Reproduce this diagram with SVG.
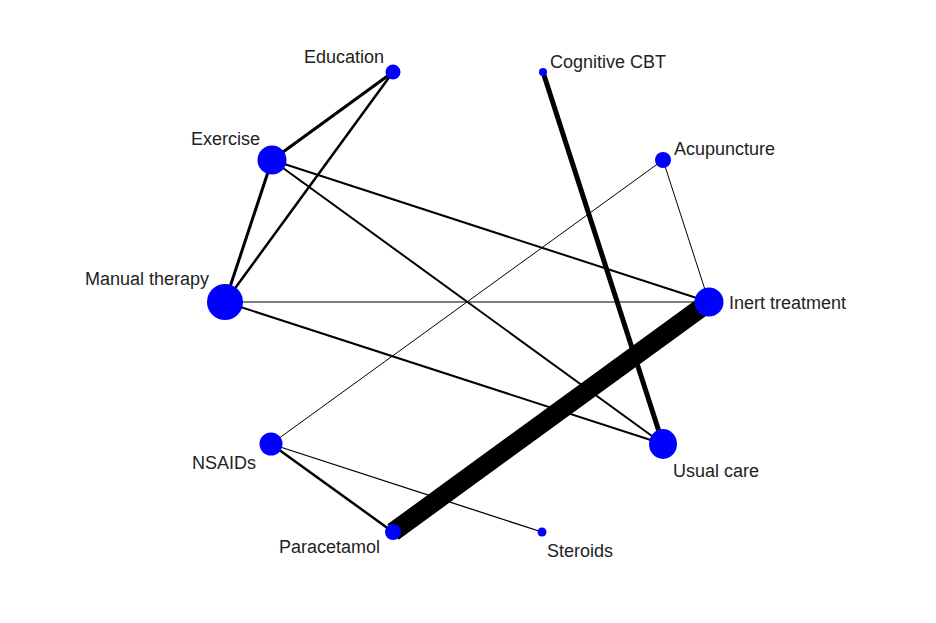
<svg xmlns="http://www.w3.org/2000/svg" width="936" height="623" viewBox="0 0 936 623">
<style>
.lbl{font-family:"Liberation Sans",Arial,sans-serif;font-size:18px;fill:#222}
.node{fill:#0000ff}
.e{stroke:#000;fill:none;stroke-linecap:butt}
</style>
<rect width="936" height="623" fill="#fff"/>
<g id="connectors">
<line class="e" x1="393" y1="72" x2="272" y2="160" stroke-width="3"/>
<line class="e" x1="393" y1="72" x2="225" y2="302" stroke-width="2.5"/>
<line class="e" x1="272" y1="160" x2="225" y2="302" stroke-width="3"/>
<line class="e" x1="272" y1="160" x2="709" y2="302" stroke-width="2"/>
<line class="e" x1="272" y1="160" x2="663" y2="444" stroke-width="2"/>
<line class="e" x1="225" y1="302" x2="709" y2="302" stroke-width="1" stroke="#444"/>
<line class="e" x1="225" y1="302" x2="663" y2="444" stroke-width="2"/>
<line class="e" x1="663" y1="160" x2="709" y2="302" stroke-width="1" stroke="#333"/>
<line class="e" x1="663" y1="160" x2="271" y2="444" stroke-width="1" stroke="#444"/>
<line class="e" x1="543" y1="72" x2="663" y2="444" stroke-width="5"/>
<line class="e" x1="709" y1="302" x2="393" y2="532" stroke-width="19"/>
<line class="e" x1="271" y1="444" x2="393" y2="532" stroke-width="2.5"/>
<line class="e" x1="271" y1="444" x2="542" y2="532" stroke-width="1.3" stroke="#222"/>
</g>
<g id="education"><circle class="node" cx="393" cy="72" r="7.5"/><text class="lbl" x="304" y="63">Education</text></g>
<g id="cognitive-cbt"><circle class="node" cx="543" cy="72" r="4"/><text class="lbl" x="550" y="68">Cognitive CBT</text></g>
<g id="exercise"><circle class="node" cx="272" cy="160" r="14.5"/><text class="lbl" x="191" y="145">Exercise</text></g>
<g id="acupuncture"><circle class="node" cx="663" cy="160" r="8"/><text class="lbl" x="674" y="155">Acupuncture</text></g>
<g id="manual-therapy"><circle class="node" cx="225" cy="302" r="18"/><text class="lbl" x="85" y="285">Manual therapy</text></g>
<g id="inert-treatment"><circle class="node" cx="709" cy="302" r="14.5"/><text class="lbl" x="729" y="309">Inert treatment</text></g>
<g id="nsaids"><circle class="node" cx="271" cy="444" r="11.5"/><text class="lbl" x="192" y="469">NSAIDs</text></g>
<g id="usual-care"><ellipse class="node" cx="663" cy="444" rx="14" ry="15"/><text class="lbl" x="673" y="477">Usual care</text></g>
<g id="paracetamol"><circle class="node" cx="393" cy="532" r="8"/><text class="lbl" x="279" y="553">Paracetamol</text></g>
<g id="steroids"><circle class="node" cx="542" cy="532" r="4.5"/><text class="lbl" x="547" y="557">Steroids</text></g>
</svg>
